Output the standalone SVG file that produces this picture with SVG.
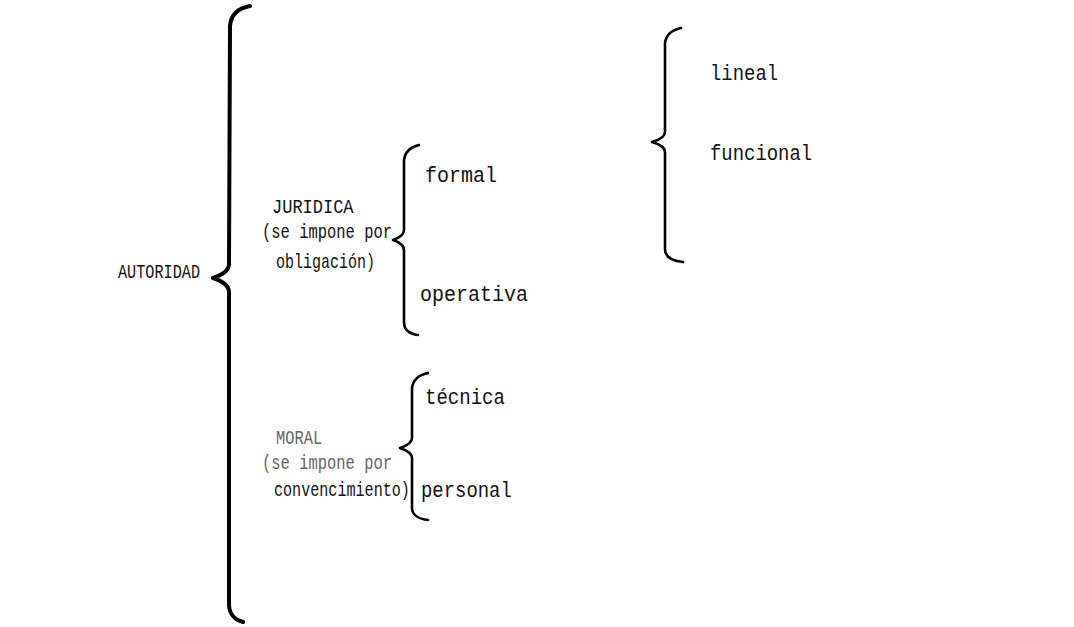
<svg xmlns="http://www.w3.org/2000/svg" width="1074" height="627" viewBox="0 0 1074 627">
  <style>
    .t { font-family: "Liberation Mono", "Courier New", monospace; fill: #111; }
    .s { font-size: 20px; }
    .l { font-size: 22px; }
    .faint { fill: #666; }
    .brace { fill: none; stroke: #000; stroke-linecap: round; stroke-linejoin: round; }
    .big { stroke-width: 4; }
    .mid { stroke-width: 2.6; }
  </style>
  <rect width="1074" height="627" fill="#fff"/>

  <!-- braces joining each heading to its branches -->
  <g id="connectors">
    <path class="brace big" d="M250,6 C239,8 231,14 230,26 L229,264 C229,271 222,275 213,278 C222,281 229,285 229,292 L229,604 C229,614 235,620 243,622"/>
    <path class="brace mid" d="M419,145 C410,147 405,152 404,160 L404,230 C404,235 399,238 393,240 C399,242 404,245 404,250 L404,322 C404,330 410,334 418,335"/>
    <path class="brace mid" d="M681,28 C672,30 666,35 665,43 L665,132 C665,137 659,140 652,142 C659,144 665,147 665,152 L665,249 C665,257 673,261 683,262"/>
    <path class="brace mid" d="M428,373 C419,375 413,380 412,388 L412,438 C412,443 406,446 400,448 C406,450 412,453 412,458 L412,508 C412,515 419,519 428,520"/>
  </g>

  <!-- narrow typewriter pitch: left column ~9.2px, right columns ~11.5px per character -->
  <g id="autoridad">
    <text class="t s" transform="translate(118,278) scale(0.76,1)">AUTORIDAD</text>
  </g>

  <g id="juridica">
    <text class="t s" transform="translate(272,213) scale(0.85,1)">JURIDICA</text>
    <text class="t s" transform="translate(262,238) scale(0.774,1)">(se impone por</text>
    <text class="t s" transform="translate(276,268) scale(0.75,1)">obligación)</text>
  </g>

  <g id="formal">
    <text class="t l" transform="translate(425,182) scale(0.91,1)">formal</text>
  </g>
  <g id="operativa">
    <text class="t l" transform="translate(420,301) scale(0.91,1)">operativa</text>
  </g>

  <g id="lineal">
    <text class="t l" transform="translate(710,80) scale(0.86,1)">lineal</text>
  </g>
  <g id="funcional">
    <text class="t l" transform="translate(710,160) scale(0.86,1)">funcional</text>
  </g>

  <g id="moral">
    <text class="t s faint" transform="translate(276,444) scale(0.77,1)">MORAL</text>
    <text class="t s faint" transform="translate(262,469) scale(0.774,1)">(se impone por</text>
    <text class="t s" transform="translate(274,496) scale(0.755,1)">convencimiento)</text>
  </g>

  <g id="tecnica">
    <text class="t l" transform="translate(425,404) scale(0.866,1)">técnica</text>
  </g>
  <g id="personal">
    <text class="t l" transform="translate(421,497) scale(0.86,1)">personal</text>
  </g>
</svg>
